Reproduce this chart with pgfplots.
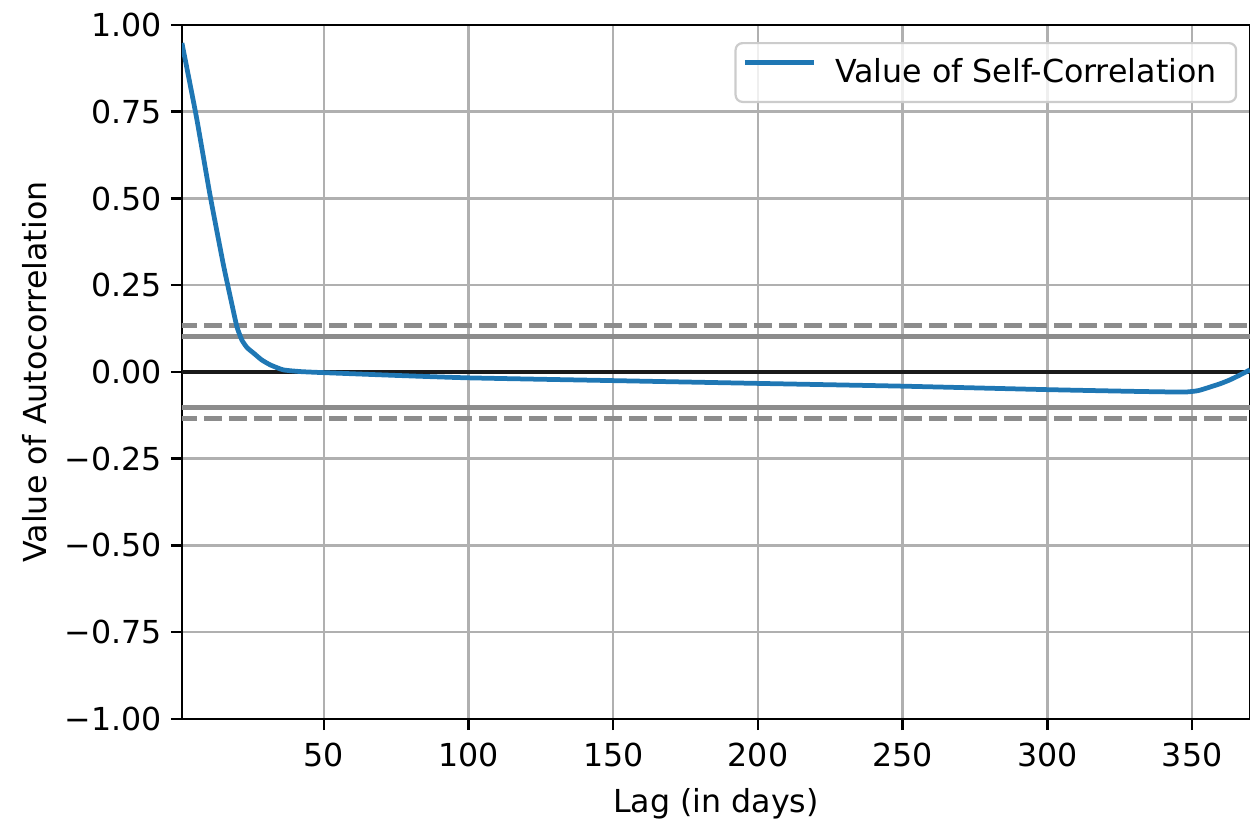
\documentclass[border=0pt]{standalone}
\usepackage{fontspec}
\setmainfont{DejaVu Sans}
\usepackage{pgfplots}
\pgfplotsset{compat=1.18}
\definecolor{mplblue}{HTML}{1F77B4}
\definecolor{gridgray}{HTML}{B0B0B0}
\definecolor{refgray}{HTML}{8C8C8C}
\definecolor{zeroblack}{HTML}{1A1A1A}
\newcommand{\fs}{\fontsize{11.4}{13.7}\selectfont}
\begin{document}
\begin{tikzpicture}
\begin{axis}[
  scale only axis, width=384.5pt, height=249.8pt,
  xmin=1, xmax=370, ymin=-1, ymax=1,
  xtick={50,100,150,200,250,300,350},
  xticklabels={50,100,150,200,250,300,350},
  ytick={-1,-0.75,-0.5,-0.25,0,0.25,0.5,0.75,1},
  yticklabels={−1.00,−0.75,−0.50,−0.25,0.00,0.25,0.50,0.75,1.00},
  tick align=outside, tick pos=left, major tick length=4pt,
  tick style={black, line width=0.91pt},
  grid=major, grid style={gridgray, line width=0.91pt},
  axis line style={black, line width=0.91pt},
  ticklabel style={font=\fs},
  xticklabel style={anchor=north, inner sep=0pt, yshift=-4.3pt},
  yticklabel style={anchor=east, inner sep=0pt, xshift=-3pt},
  label style={font=\fs},
  xlabel={Lag (in days)}, ylabel={Value of Autocorrelation},
  xlabel style={at={(axis description cs:0.5,-0.1353)}, anchor=base},
  ylabel style={at={(axis description cs:-0.1378,0.5)}, anchor=center},
  legend style={at={(rel axis cs:0.988,0.9755)}, anchor=north east,
    draw=black!20, line width=0.8pt, rounded corners=2.5pt,
    fill=white, fill opacity=0.8, text opacity=1, font=\fs,
    inner xsep=2.5pt, inner ysep=5.5pt, nodes={inner sep=0pt}},
  legend cell align=left,
  legend image code/.code={\draw[#1] (0pt,3.5pt) -- (25pt,3.5pt); \path[draw=none] (25pt,3.5pt) -- (32.5pt,3.5pt);},
]
\addplot[refgray, line width=1.71pt, dash pattern=on 6.3pt off 2.7pt, forget plot] coordinates {(0,0.1339) (380,0.1339)};
\addplot[refgray, line width=1.71pt, forget plot] coordinates {(0,0.1019) (380,0.1019)};
\addplot[zeroblack, line width=1.71pt, forget plot] coordinates {(0,0) (380,0)};
\addplot[refgray, line width=1.71pt, forget plot] coordinates {(0,-0.1019) (380,-0.1019)};
\addplot[refgray, line width=1.71pt, dash pattern=on 6.3pt off 2.7pt, forget plot] coordinates {(0,-0.1339) (380,-0.1339)};
\addplot[mplblue, line width=1.71pt, smooth, tension=0.3] coordinates {
(1,0.948) (6,0.735) (10.7,0.51) (15.3,0.31) (18,0.205) (20,0.13)
(21.7,0.092) (23.5,0.07) (25.8,0.054) (28.5,0.035) (31.6,0.02) (36,0.006) (42,0.001)
(50,-0.002) (75,-0.010) (100,-0.017) (150,-0.025) (200,-0.033) (250,-0.041)
(300,-0.051) (330,-0.056) (347,-0.058) (352,-0.054) (356,-0.044) (360,-0.033)
(363,-0.023) (366,-0.011) (370,0.006)
};
\addlegendentry{Value of Self-Correlation\kern4.5pt}
\coordinate (O) at (rel axis cs:0,0);
\end{axis}
\pgfresetboundingbox
\path[use as bounding box] ([shift={(-65.5pt,-36pt)}]O) rectangle ([shift={(384.5pt,258.8pt)}]O);
\end{tikzpicture}
\end{document}
